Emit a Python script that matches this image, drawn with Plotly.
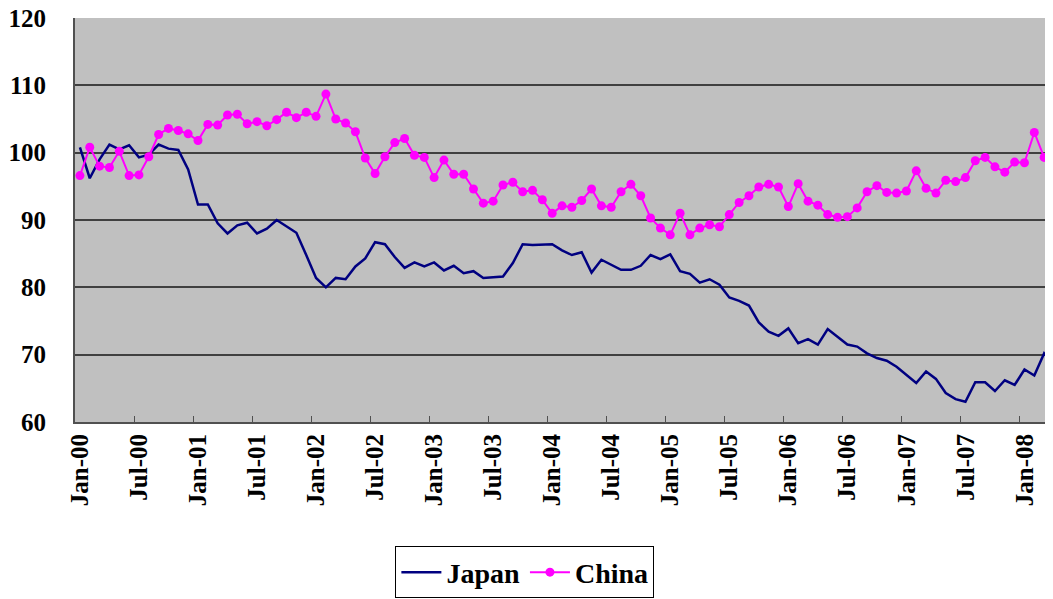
import pandas as pd
import plotly.graph_objects as go

# monthly index, Jan-2000 onwards
months = pd.date_range("2000-01-01", periods=100, freq="MS").strftime("%b-%y").tolist()

japan = [
    100.8, 96.2, 99.0, 101.2, 100.5, 101.1, 99.3, 99.7, 101.2, 100.6, 100.4, 97.5,
    92.3, 92.3, 89.5, 88.0, 89.2, 89.6, 88.0, 88.7, 90.0, 89.1, 88.1, 84.8,
    81.4, 80.0, 81.4, 81.2, 83.1, 84.3, 86.7, 86.4, 84.5, 82.9, 83.7, 83.1,
    83.7, 82.5, 83.2, 82.1, 82.4, 81.4, 81.5, 81.6, 83.6, 86.4, 86.3, 86.4,
    86.4, 85.5, 84.8, 85.2, 82.2, 84.1, 83.4, 82.6, 82.6, 83.2, 84.8, 84.2,
    84.9, 82.4, 82.0, 80.7, 81.2, 80.4, 78.5, 78.0, 77.3, 74.8, 73.4, 72.8,
    73.9, 71.7, 72.3, 71.5, 73.8, 72.6, 71.5, 71.2, 70.2, 69.5, 69.1, 68.2,
    67.0, 65.8, 67.5, 66.4, 64.3, 63.4, 63.0, 65.9, 65.9, 64.6, 66.2, 65.5,
    67.8, 66.9, 70.2, 68.5,
]

china = [
    96.6, 100.8, 98.0, 97.8, 100.2, 96.6, 96.7, 99.4, 102.7, 103.6, 103.3, 102.8,
    101.8, 104.2, 104.1, 105.6, 105.7, 104.3, 104.6, 104.0, 104.9, 106.0, 105.2, 106.0,
    105.4, 108.7, 105.0, 104.4, 103.1, 99.2, 96.9, 99.4, 101.5, 102.1, 99.6, 99.3,
    96.3, 98.9, 96.8, 96.8, 94.6, 92.5, 92.8, 95.2, 95.6, 94.2, 94.4, 93.0,
    91.0, 92.1, 91.9, 92.9, 94.6, 92.1, 91.9, 94.2, 95.3, 93.6, 90.3, 88.8,
    87.8, 91.0, 87.8, 88.8, 89.3, 89.0, 90.8, 92.6, 93.6, 94.9, 95.3, 94.9,
    92.0, 95.4, 92.8, 92.2, 90.8, 90.4, 90.5, 91.8, 94.2, 95.1, 94.1, 94.0,
    94.3, 97.3, 94.7, 94.0, 95.9, 95.7, 96.3, 98.8, 99.3, 97.9, 97.1, 98.6,
    98.5, 103.0, 99.3, 100.1,
]

x = list(range(len(months)))
label_idx = x[::6]
tick_labels = [months[i] for i in label_idx]

fig = go.Figure()

fig.add_trace(
    go.Scatter(
        x=x, y=japan, mode="lines", name="Japan",
        line=dict(color="#000080", width=2.5),
    )
)
fig.add_trace(
    go.Scatter(
        x=x, y=china, mode="lines+markers", name="China",
        line=dict(color="#FF00FF", width=2),
        marker=dict(color="#FF00FF", size=9),
    )
)

tick_font = dict(family="Liberation Serif", size=25, color="black", weight="bold")

# the page body adds an 8px margin, so size/offset the figure to compensate
fig.update_layout(
    width=1045,
    height=591,
    paper_bgcolor="white",
    plot_bgcolor="#C0C0C0",
    margin=dict(l=67, r=0, t=10, b=172),
    showlegend=True,
    legend=dict(
        orientation="h",
        x=0.46, xanchor="center",
        y=-0.308, yanchor="top",
        bgcolor="white",
        bordercolor="black",
        borderwidth=1,
        font=dict(family="Liberation Serif", size=28, color="black", weight="bold"),
        itemwidth=40,
    ),
    xaxis=dict(
        range=[-0.5, 98.9],
        tickmode="array",
        tickvals=label_idx,
        ticktext=tick_labels,
        tickangle=-90,
        ticks="",
        tickfont=tick_font,
        automargin=False,
        ticklabeloverflow="allow",
        showgrid=False,
        zeroline=False,
        showline=True,
        linecolor="#505050",
        linewidth=2,
        minor=dict(
            tickmode="array",
            tickvals=[i - 0.5 for i in label_idx[1:]],
            ticks="inside",
            ticklen=6,
            tickwidth=1,
            tickcolor="#505050",
            showgrid=False,
        ),
    ),
    yaxis=dict(
        range=[60, 120],
        dtick=10,
        ticks="",
        tickfont=tick_font,
        ticklabelstandoff=22,
        automargin=False,
        ticklabeloverflow="allow",
        showgrid=True,
        gridcolor="#404040",
        gridwidth=1.5,
        zeroline=False,
        showline=True,
        linecolor="#505050",
        linewidth=2,
    ),
)

fig.write_html("out.html")
